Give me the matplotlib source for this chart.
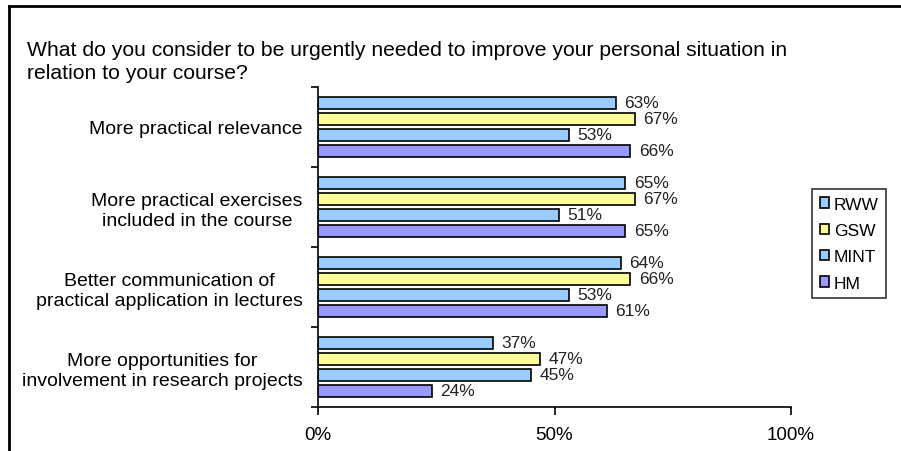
import numpy as np
import matplotlib
matplotlib.use('Agg')
from matplotlib import pyplot as plt
from matplotlib.lines import Line2D

plt.rcParams['font.family'] = ['Liberation Sans', 'DejaVu Sans']

categories = ['More practical relevance',
              'More practical exercises\nincluded in the course',
              'Better communication of\npractical application in lectures',
              'More opportunities for\ninvolvement in research projects']
series = ['RWW', 'GSW', 'MINT', 'HM']
rww = [63, 65, 64, 37]
gsw = [67, 67, 66, 47]
mint = [53, 51, 53, 45]
hm = [66, 65, 61, 24]
colors = ['#99ccff', '#ffff99', '#99ccff', '#9999ff']

fig = plt.figure(figsize=(9.01, 4.52), dpi=100)
ax = fig.add_axes([318/901, 1-408/452, 473/901, 320/452])

vals = [rww, gsw, mint, hm]
for k in range(4):
    y = np.arange(4) + 0.2*(k+1)
    ax.barh(y, vals[k], height=0.15, color=colors[k], edgecolor='black', linewidth=1.2, label=series[k])
    for yy, v in zip(y, vals[k]):
        ax.text(v+1.8, yy, '%d%%' % v, va='center', ha='left', fontsize=12.5, color='#222222')

ax.set_ylim(4, 0)
ax.set_xlim(0, 100)
ax.set_yticks(np.arange(5))
ax.set_yticklabels([])
ax.set_yticks(np.arange(4)+0.5, minor=True)
ax.set_yticklabels(categories, minor=True, fontsize=14, multialignment='center')
ax.tick_params(axis='y', which='minor', length=0, pad=11)
ax.tick_params(axis='y', which='major', length=5, width=1.2)
ax.set_xticks([0, 50, 100])
ax.set_xticklabels(['0%', '50%', '100%'], fontsize=13.5)
ax.tick_params(axis='x', length=6, width=1.2, pad=8)
ax.spines['top'].set_visible(False)
ax.spines['right'].set_visible(False)
ax.spines['left'].set_linewidth(1.2)
ax.spines['bottom'].set_linewidth(1.2)

leg = fig.legend(loc='upper left', bbox_to_anchor=(812/901, 1-190/452), fontsize=12.5,
                 frameon=True, fancybox=False, edgecolor='black', handlelength=0.55,
                 handleheight=0.55, handletextpad=0.25, labelspacing=0.65, borderpad=0.45,
                 borderaxespad=0)
leg.get_frame().set_linewidth(1.2)

fig.text(27/901, 1-62/452, 'What do you consider to be urgently needed to improve your personal situation in\nrelation to your course?',
         fontsize=15.2, va='center', ha='left', linespacing=1.3)

fig.add_artist(Line2D([9/901, 9/901], [0, 1-7/452], color='black', linewidth=2))
fig.add_artist(Line2D([9/901, 1], [1-7/452, 1-7/452], color='black', linewidth=2))

plt.savefig('out.png', dpi=100)
